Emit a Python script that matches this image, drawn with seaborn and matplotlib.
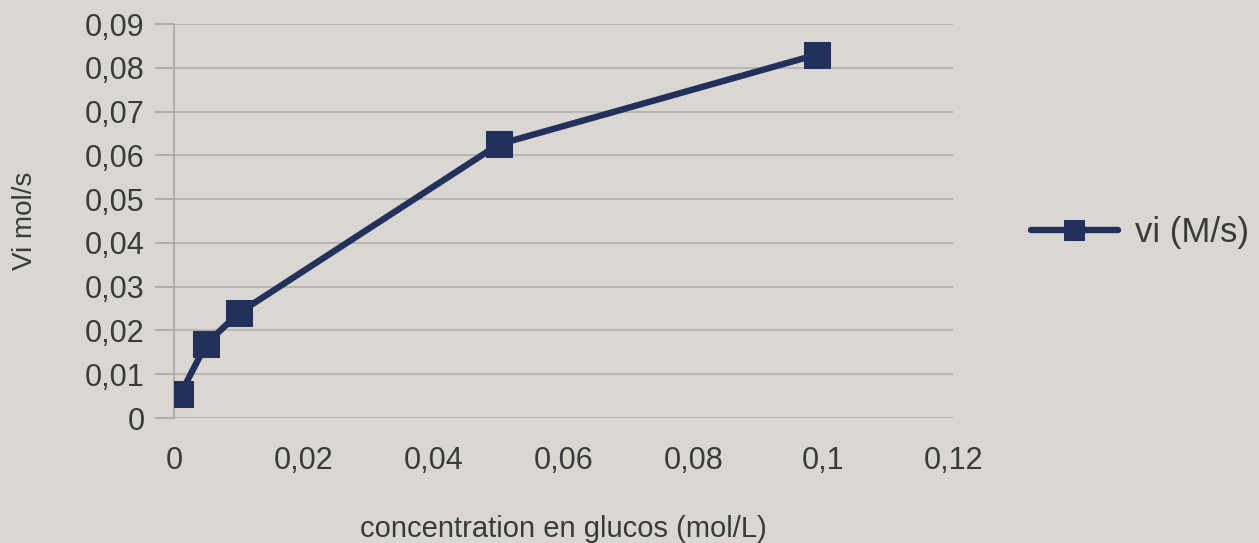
import matplotlib
matplotlib.use("Agg")
import matplotlib.pyplot as plt
import seaborn as sns
import pandas as pd
from matplotlib.ticker import FuncFormatter, MultipleLocator

# Initial rate vs glucose concentration
concentration = [0.001, 0.005, 0.01, 0.05, 0.099]
vi = [0.0055, 0.017, 0.024, 0.0625, 0.083]
series_label = "vi (M/s)"
x_label = "concentration en glucos (mol/L)"
y_label = "Vi mol/s"

df = pd.DataFrame({"c": concentration, "v": vi, "s": series_label})

sns.set_theme(style="white")
plt.rcParams["font.family"] = ["Liberation Sans", "DejaVu Sans"]

bg = "#dad7d2"
navy = "#22305c"
text_col = "#3a3a3a"

fig = plt.figure(figsize=(12.59, 5.43), dpi=100, facecolor=bg)
ax = fig.add_axes([174 / 1259, 1 - 418 / 543, (953 - 174) / 1259, (418 - 24) / 543])
ax.set_facecolor(bg)

sns.lineplot(data=df, x="c", y="v", hue="s", palette=[navy], marker="s",
             markersize=19, linewidth=4.6, markeredgecolor=navy, ax=ax,
             sort=False, zorder=3)

ax.set_xlim(0, 0.12)
ax.set_ylim(0, 0.09)
ax.xaxis.set_major_locator(MultipleLocator(0.02))
ax.yaxis.set_major_locator(MultipleLocator(0.01))


def comma_fmt(v, pos):
    r = round(v, 2)
    if r == 0:
        return "0"
    return f"{r:g}".replace(".", ",")


ax.xaxis.set_major_formatter(FuncFormatter(comma_fmt))
ax.yaxis.set_major_formatter(FuncFormatter(comma_fmt))

ax.grid(axis="y", color="#b3b0ab", linewidth=1.2)
ax.grid(axis="x", visible=False)
for side in ["top", "right", "bottom"]:
    ax.spines[side].set_visible(False)
ax.spines["left"].set_color("#a9a6a1")
ax.spines["left"].set_linewidth(1.2)

ax.tick_params(axis="y", which="major", left=True, length=14, width=1.2,
               color="#a9a6a1", labelsize=22, labelcolor=text_col, pad=7)
ax.tick_params(axis="x", which="major", bottom=False, labelsize=22,
               labelcolor=text_col, pad=14)

ax.set_xlabel(x_label, fontsize=21, color=text_col, labelpad=28)
ax.set_ylabel(y_label, fontsize=20, color=text_col, labelpad=34)

leg = ax.legend(loc="center left", bbox_to_anchor=(1.06, 0.47), frameon=False,
                fontsize=25, handlelength=2.5, handletextpad=0.5,
                labelcolor=text_col)
for h in leg.legend_handles:
    h.set_markersize(15)
    h.set_linewidth(4.6)

fig.savefig("out.png", dpi=100, facecolor=bg)
